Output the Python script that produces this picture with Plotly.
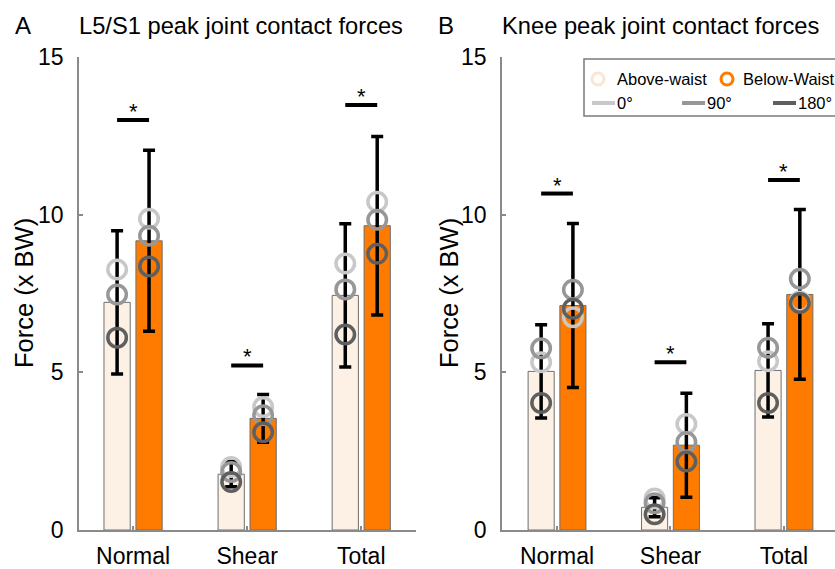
import plotly.graph_objects as go

# ---------------- data ----------------
categories = ["Normal", "Shear", "Total"]
cat_pos = [1, 2, 3]

# L5/S1 peak joint contact forces (x BW)
l5_above_mean = [7.22, 1.77, 7.44]
l5_above_sd = [2.27, 0.40, 2.27]
l5_below_mean = [9.17, 3.54, 9.65]
l5_below_sd = [2.87, 0.76, 2.83]
l5_above_0 = [8.26, 2.00, 8.45]
l5_above_90 = [7.47, 1.84, 7.63]
l5_above_180 = [6.10, 1.52, 6.20]
l5_below_0 = [9.87, 3.90, 10.41]
l5_below_90 = [9.33, 3.64, 9.84]
l5_below_180 = [8.36, 3.10, 8.76]
l5_sig = [13.00, 5.22, 13.48]

# Knee peak joint contact forces (x BW)
knee_above_mean = [5.03, 0.72, 5.06]
knee_above_sd = [1.48, 0.30, 1.48]
knee_below_mean = [7.12, 2.69, 7.47]
knee_below_sd = [2.60, 1.65, 2.69]
knee_above_0 = [5.32, 1.00, 5.35]
knee_above_90 = [5.76, 0.85, 5.78]
knee_above_180 = [4.03, 0.50, 4.03]
knee_below_0 = [6.75, 3.36, 7.25]
knee_below_90 = [7.62, 2.79, 7.97]
knee_below_180 = [7.02, 2.17, 7.20]
knee_sig = [10.67, 5.32, 11.10]

panel_titles = ["L5/S1 peak joint contact forces", "Knee peak joint contact forces"]
panel_letters = ["A", "B"]
y_title = "Force (x BW)"
legend_groups = ["Above-waist", "Below-Waist"]
legend_angles = ["0°", "90°", "180°"]

# ---------------- style ----------------
FONT = "Liberation Sans, Arial, Helvetica, sans-serif"
C_ABOVE = "#FDF1E5"
C_ABOVE_LEG = "#FCE6D2"
C_BELOW = "#FF7B00"
C_OUTLINE = "#6e6e6e"
C_ANG = ["#c8c8c8", "#979797", "#5f5f5f"]
AXC = "#8a8a8a"
HALF = 0.14
BW = 0.23

W, H = 835, 569
ML, MR, MT, MB = 79, 0, 57, 39
PW = W - ML - MR
PH = H - MT - MB


def px2x(px):
    return (px - ML) / PW


def py2y(py):
    return (H - MB - py) / PH


fig = go.Figure()

panels = [
    dict(xa="x", ya="y", am=l5_above_mean, asd=l5_above_sd, bm=l5_below_mean, bsd=l5_below_sd,
         a=[l5_above_0, l5_above_90, l5_above_180], b=[l5_below_0, l5_below_90, l5_below_180],
         sig=l5_sig),
    dict(xa="x2", ya="y2", am=knee_above_mean, asd=knee_above_sd, bm=knee_below_mean, bsd=knee_below_sd,
         a=[knee_above_0, knee_above_90, knee_above_180], b=[knee_below_0, knee_below_90, knee_below_180],
         sig=knee_sig),
]

err_style = dict(type="data", color="black", thickness=3.5, width=6, visible=True)

for p in panels:
    fig.add_trace(go.Bar(
        x=cat_pos, y=p["am"], offset=-HALF - BW / 2, width=BW,
        marker=dict(color=C_ABOVE, line=dict(color=C_OUTLINE, width=1)),
        error_y=dict(array=p["asd"], **err_style),
        xaxis=p["xa"], yaxis=p["ya"], name=legend_groups[0]))
    fig.add_trace(go.Bar(
        x=cat_pos, y=p["bm"], offset=HALF - BW / 2, width=BW,
        marker=dict(color=C_BELOW, line=dict(color=C_OUTLINE, width=1)),
        error_y=dict(array=p["bsd"], **err_style),
        xaxis=p["xa"], yaxis=p["ya"], name=legend_groups[1]))
    for side, shift in (("a", -HALF), ("b", HALF)):
        for k in range(3):
            fig.add_trace(go.Scatter(
                x=[c + shift for c in cat_pos], y=p[side][k], mode="markers",
                marker=dict(symbol="circle-open", size=18.5, color=C_ANG[k], line=dict(width=3.5)),
                xaxis=p["xa"], yaxis=p["ya"], name=legend_angles[k]))
    sx, sy = [], []
    for c, s in zip(cat_pos, p["sig"]):
        sx += [c - HALF, c + HALF, None]
        sy += [s, s, None]
    fig.add_trace(go.Scatter(x=sx, y=sy, mode="lines", line=dict(color="black", width=4),
                             xaxis=p["xa"], yaxis=p["ya"], hoverinfo="skip"))
    for c, s in zip(cat_pos, p["sig"]):
        fig.add_annotation(x=c, y=s, xref=p["xa"], yref=p["ya"], text="*", showarrow=False,
                           yanchor="bottom", yshift=-6, font=dict(size=22, color="black", family=FONT))

axis_common = dict(showline=True, linecolor=AXC, linewidth=1.5, ticks="inside", ticklen=4,
                   tickcolor=AXC, tickwidth=1.5, showgrid=False, zeroline=False, automargin=False,
                   tickfont=dict(size=23, color="black", family=FONT))

fig.update_layout(
    width=W, height=H, margin=dict(l=ML, r=MR, t=MT, b=MB, autoexpand=False),
    plot_bgcolor="white", paper_bgcolor="white", showlegend=False, barmode="overlay",
    font=dict(family=FONT, color="black"),
    xaxis=dict(domain=[0, px2x(416)], range=[0.526, 3.48], tickvals=cat_pos, ticktext=categories,
               anchor="y", ticklabelstandoff=5, **axis_common),
    yaxis=dict(domain=[0, 1], range=[0, 15], tickvals=[0, 5, 10, 15], anchor="x",
               ticklabelstandoff=9, **axis_common),
    xaxis2=dict(domain=[px2x(502), 1], range=[0.515, 3.45], tickvals=cat_pos, ticktext=categories,
                anchor="y2", ticklabelstandoff=5, **axis_common),
    yaxis2=dict(domain=[0, 1], range=[0, 15], tickvals=[0, 5, 10, 15], anchor="x2",
                ticklabelstandoff=9, **axis_common),
)

# panel headers and y titles
for letter, title, lx, tx, yx in ((panel_letters[0], panel_titles[0], 13, 77, 24),
                                  (panel_letters[1], panel_titles[1], 436, 500, 449)):
    fig.add_annotation(x=px2x(lx), y=py2y(26), xref="paper", yref="paper", text=letter,
                       showarrow=False, xanchor="left", yanchor="middle",
                       font=dict(size=24, family=FONT, color="black"))
    fig.add_annotation(x=px2x(tx), y=py2y(26), xref="paper", yref="paper", text=title,
                       showarrow=False, xanchor="left", yanchor="middle",
                       font=dict(size=23.7, family=FONT, color="black"))
    fig.add_annotation(x=px2x(yx), y=py2y(293), xref="paper", yref="paper", text=y_title,
                       showarrow=False, xanchor="center", yanchor="middle", textangle=-90,
                       font=dict(size=25.5, family=FONT, color="black"))

# legend (drawn manually, clipped at the right edge as in the reference)
fig.add_shape(type="rect", xref="paper", yref="paper", x0=px2x(584), x1=px2x(860),
              y0=py2y(116), y1=py2y(59), line=dict(color="#7a7a7a", width=1.5), fillcolor="white")
for cx, col in ((598, C_ABOVE_LEG), (727, C_BELOW)):
    fig.add_shape(type="circle", xref="paper", yref="paper", xsizemode="pixel", ysizemode="pixel",
                  xanchor=px2x(cx), yanchor=py2y(79), x0=-6, x1=6, y0=-6, y1=6,
                  line=dict(color=col, width=3))
for txt, tx in zip(legend_groups, (615, 741)):
    fig.add_annotation(x=px2x(tx), y=py2y(79), xref="paper", yref="paper", text=txt,
                       showarrow=False, xanchor="left", yanchor="middle",
                       font=dict(size=16.5, family=FONT, color="black"))
for txt, lx0, col in zip(legend_angles, (592, 682, 773), C_ANG):
    fig.add_shape(type="line", xref="paper", yref="paper", x0=px2x(lx0), x1=px2x(lx0 + 23),
                  y0=py2y(103), y1=py2y(103), line=dict(color=col, width=4))
    fig.add_annotation(x=px2x(lx0 + 23), y=py2y(103), xref="paper", yref="paper", text=txt,
                       showarrow=False, xanchor="left", yanchor="middle",
                       font=dict(size=16.5, family=FONT, color="black"))

fig.write_html("out.html")
